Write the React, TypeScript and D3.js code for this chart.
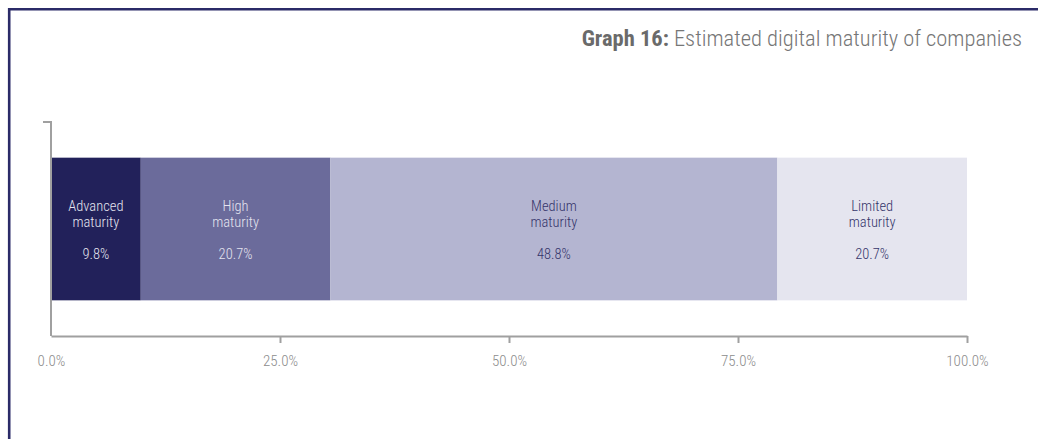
import React, { useEffect, useRef } from "react";
import * as d3 from "d3";

// Chart data
const categories = ["Advanced maturity", "High maturity", "Medium maturity", "Limited maturity"];
const shares = [9.8, 20.7, 48.8, 20.7];
const tickValues = [0, 25, 50, 75, 100];
const titleBold = "Graph 16:";
const titleText = " Estimated digital maturity of companies";

// Styles
const fills = ["#22215a", "#6b6b9b", "#b4b5d1", "#e5e5ef"];
const textFills = ["#e4e4ef", "#e4e4ef", "#34346a", "#34346a"];
const font = "'Roboto Condensed', 'Liberation Sans Narrow', 'Arial Narrow', Roboto, sans-serif";

const W = 1038;
const H = 439;

export default function App() {
  const ref = useRef<SVGSVGElement>(null);

  useEffect(() => {
    const svg = d3.select(ref.current);
    svg.selectAll("*").remove();

    // Frame (navy top and left rule)
    svg.append("path")
      .attr("d", `M9.2,${H} V9.2 H${W}`)
      .attr("fill", "none")
      .attr("stroke", "#2b2b68")
      .attr("stroke-width", 2.6);

    // Title
    const title = svg.append("text")
      .attr("x", 1022)
      .attr("y", 46)
      .attr("text-anchor", "end")
      .attr("font-family", font)
      .attr("font-size", 22.5)
      .attr("font-weight", 300)
      .attr("fill", "#767676");
    title.append("tspan").attr("font-weight", "bold").attr("fill", "#6a6a6a").text(titleBold);
    title.append("tspan").text(titleText);

    // Scales
    const x = d3.scaleLinear().domain([0, 100]).range([51, 967]);
    const y = d3.scaleBand().domain(["companies"]).range([122, 336]).padding(0.2);

    // Stacked segments
    const ends = Array.from(d3.cumsum(shares));
    const segs = shares.map((v, i) => ({
      name: categories[i],
      value: v,
      x0: i === 0 ? 0 : ends[i - 1],
      x1: ends[i],
      i,
    }));

    const by = y("companies") as number;
    const bh = y.bandwidth();
    const cy = by + bh / 2;

    svg.append("g")
      .selectAll("rect")
      .data(segs)
      .enter().append("rect")
      .attr("x", d => x(d.x0))
      .attr("y", by)
      .attr("width", d => x(d.x1) - x(d.x0))
      .attr("height", bh)
      .attr("fill", d => fills[d.i]);

    // Segment labels
    const labels = svg.append("g")
      .attr("font-family", font)
      .attr("font-size", 14.5)
      .attr("font-weight", 300)
      .attr("text-anchor", "middle")
      .selectAll("g")
      .data(segs)
      .enter().append("g")
      .attr("transform", d => `translate(${(x(d.x0) + x(d.x1)) / 2},${cy})`)
      .attr("fill", d => textFills[d.i]);

    labels.each(function (d) {
      const g = d3.select(this);
      const words = d.name.split(" ");
      g.append("text").attr("y", -18).text(words[0]);
      g.append("text").attr("y", -2).text(words.slice(1).join(" "));
      g.append("text").attr("y", 30).text(d.value.toFixed(1) + "%");
    });

    // Y axis line with top tick
    const [y0, y1] = y.range();
    svg.append("path")
      .attr("d", `M${x(0) - 8},${y0} H${x(0)} V${y1}`)
      .attr("fill", "none")
      .attr("stroke", "#a0a0a0")
      .attr("stroke-width", 2);

    // X axis
    const xAxis = svg.append("g")
      .attr("transform", `translate(0,${y1})`)
      .call(
        d3.axisBottom(x)
          .tickValues(tickValues)
          .tickFormat(d => (d as number).toFixed(1) + "%")
          .tickSize(7)
          .tickSizeOuter(0)
          .tickPadding(12)
      );
    xAxis.select(".domain").attr("stroke", "#a0a0a0").attr("stroke-width", 2);
    xAxis.selectAll(".tick line").attr("stroke", "#a0a0a0").attr("stroke-width", 2);
    xAxis.selectAll(".tick").filter(d => d === 0).select("line").remove();
    xAxis.selectAll(".tick text")
      .attr("font-family", font)
      .attr("font-size", 15)
      .attr("font-weight", 300)
      .attr("fill", "#8c8c8c");
  }, []);

  return (
    <svg
      ref={ref}
      width={W}
      height={H}
      style={{ position: "absolute", left: 0, top: 0, background: "#fff" }}
    />
  );
}
